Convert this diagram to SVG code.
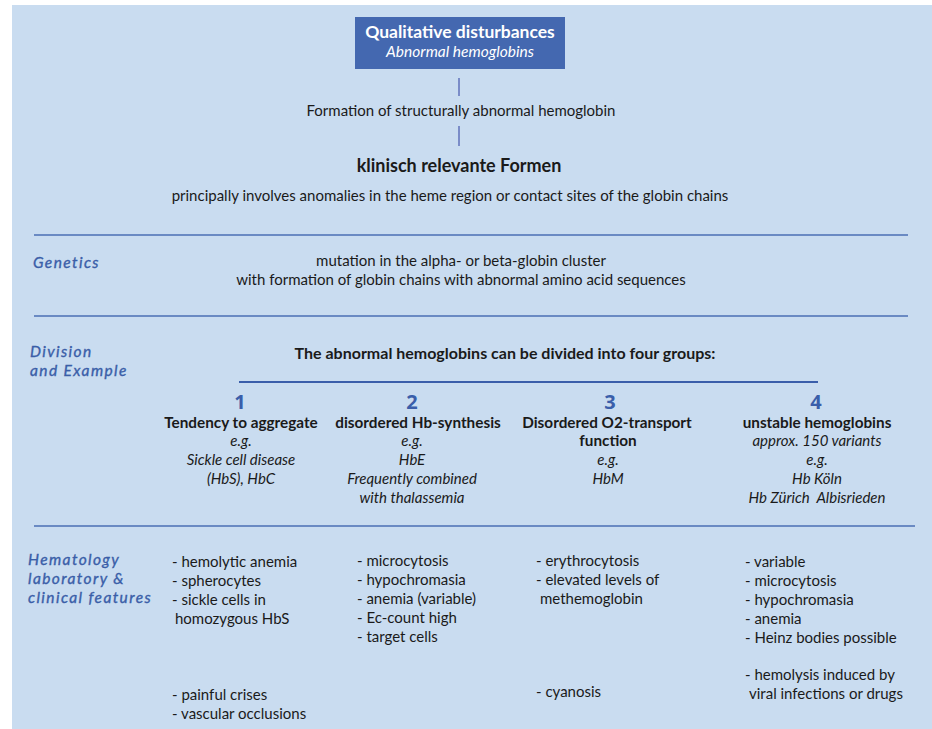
<svg xmlns="http://www.w3.org/2000/svg" width="932" height="729" viewBox="0 0 932 729">
<style>
.t{font-family:Lato,"Open Sans","Liberation Sans",sans-serif;font-size:15px;fill:#1a1a1a}
.c{text-anchor:middle}
.b{font-weight:bold;font-size:16px}
.hd{font-size:15.3px}
.i{font-style:italic}
.h{font-family:Lato,"Noto Sans",sans-serif;font-style:italic;font-size:15.5px;letter-spacing:1.4px;fill:#3a5ea8;stroke:#3a5ea8;stroke-width:0.35}
.n{font-family:"Open Sans",Lato,sans-serif;font-weight:bold;font-size:20px;fill:#3a5eaa;text-anchor:middle}
.sep{stroke:#4a6fb5;stroke-width:1.3}
.conn{stroke:#7a8cc8;stroke-width:2}
</style>
<rect x="12" y="5" width="920" height="724" fill="#c9dcf0"/>
<g id="connectors">
<line class="conn" x1="459" y1="78" x2="459" y2="96"/>
<line class="conn" x1="459" y1="126" x2="459" y2="146"/>
</g>
<g id="separators">
<line class="sep" x1="34" y1="235" x2="908" y2="235"/>
<line class="sep" x1="34" y1="316" x2="908" y2="316"/>
<line x1="239" y1="382" x2="818" y2="382" stroke="#3a5eaa" stroke-width="2"/>
<line class="sep" x1="34" y1="526" x2="915" y2="526"/>
</g>
<g id="title">
<rect x="355" y="17" width="210" height="52" fill="#4468b0"/>
<text class="t c b" x="460" y="38" style="fill:#fff;font-size:17.5px">Qualitative disturbances</text>
<text class="t c i" x="460" y="57" style="fill:#fff;font-size:15.5px">Abnormal hemoglobins</text>
</g>
<g id="formation">
<text class="t c" x="461" y="116">Formation of structurally abnormal hemoglobin</text>
</g>
<g id="klinisch">
<text class="t c b" x="459" y="172" style="font-size:18px">klinisch relevante Formen</text>
<text class="t c" x="450" y="201">principally involves anomalies in the heme region or contact sites of the globin chains</text>
</g>
<g id="genetics">
<text class="h" x="33" y="268">Genetics</text>
<text class="t c" x="461" y="266">mutation in the alpha- or beta-globin cluster</text>
<text class="t c" x="461" y="285">with formation of globin chains with abnormal amino acid sequences</text>
</g>
<g id="division">
<text class="h" x="30" y="357">Division</text>
<text class="h" x="30" y="376">and Example</text>
<text class="t c b" x="505" y="359">The abnormal hemoglobins can be divided into four groups:</text>
</g>
<g id="group1">
<text class="n" x="240" y="409">1</text>
<text class="t c b hd" x="241" y="428">Tendency to aggregate</text>
<text class="t c i" x="241" y="446">e.g.</text>
<text class="t c i" x="241" y="465">Sickle cell disease</text>
<text class="t c i" x="241" y="484">(HbS), HbC</text>
</g>
<g id="group2">
<text class="n" x="412" y="409">2</text>
<text class="t c b hd" x="418" y="428">disordered Hb-synthesis</text>
<text class="t c i" x="412" y="446">e.g.</text>
<text class="t c i" x="412" y="465">HbE</text>
<text class="t c i" x="412" y="484">Frequently combined</text>
<text class="t c i" x="412" y="503">with thalassemia</text>
</g>
<g id="group3">
<text class="n" x="610" y="409">3</text>
<text class="t c b hd" x="607" y="428">Disordered O2-transport</text>
<text class="t c b hd" x="608" y="446">function</text>
<text class="t c i" x="608" y="465">e.g.</text>
<text class="t c i" x="608" y="484">HbM</text>
</g>
<g id="group4">
<text class="n" x="816" y="409">4</text>
<text class="t c b hd" x="817" y="428">unstable hemoglobins</text>
<text class="t c i" x="817" y="446">approx. 150 variants</text>
<text class="t c i" x="817" y="465">e.g.</text>
<text class="t c i" x="817" y="484">Hb Köln</text>
<text class="t c i" x="817" y="503" xml:space="preserve">Hb Zürich  Albisrieden</text>
</g>
<g id="hematology">
<text class="h" x="28" y="565">Hematology</text>
<text class="h" x="28" y="584">laboratory &amp;</text>
<text class="h" x="28" y="603">clinical features</text>
</g>
<g id="features1">
<text class="t" x="172" y="567">- hemolytic anemia</text>
<text class="t" x="172" y="586">- spherocytes</text>
<text class="t" x="172" y="605">- sickle cells in</text>
<text class="t" x="175" y="624">homozygous HbS</text>
<text class="t" x="172" y="700">- painful crises</text>
<text class="t" x="172" y="719">- vascular occlusions</text>
</g>
<g id="features2">
<text class="t" x="357" y="566">- microcytosis</text>
<text class="t" x="357" y="585">- hypochromasia</text>
<text class="t" x="357" y="604">- anemia (variable)</text>
<text class="t" x="357" y="623">- Ec-count high</text>
<text class="t" x="357" y="642">- target cells</text>
</g>
<g id="features3">
<text class="t" x="536" y="566">- erythrocytosis</text>
<text class="t" x="536" y="585">- elevated levels of</text>
<text class="t" x="540" y="604">methemoglobin</text>
<text class="t" x="536" y="697">- cyanosis</text>
</g>
<g id="features4">
<text class="t" x="745" y="567">- variable</text>
<text class="t" x="745" y="586">- microcytosis</text>
<text class="t" x="745" y="605">- hypochromasia</text>
<text class="t" x="745" y="624">- anemia</text>
<text class="t" x="745" y="643">- Heinz bodies possible</text>
<text class="t" x="745" y="680">- hemolysis induced by</text>
<text class="t" x="749" y="699">viral infections or drugs</text>
</g>
</svg>
